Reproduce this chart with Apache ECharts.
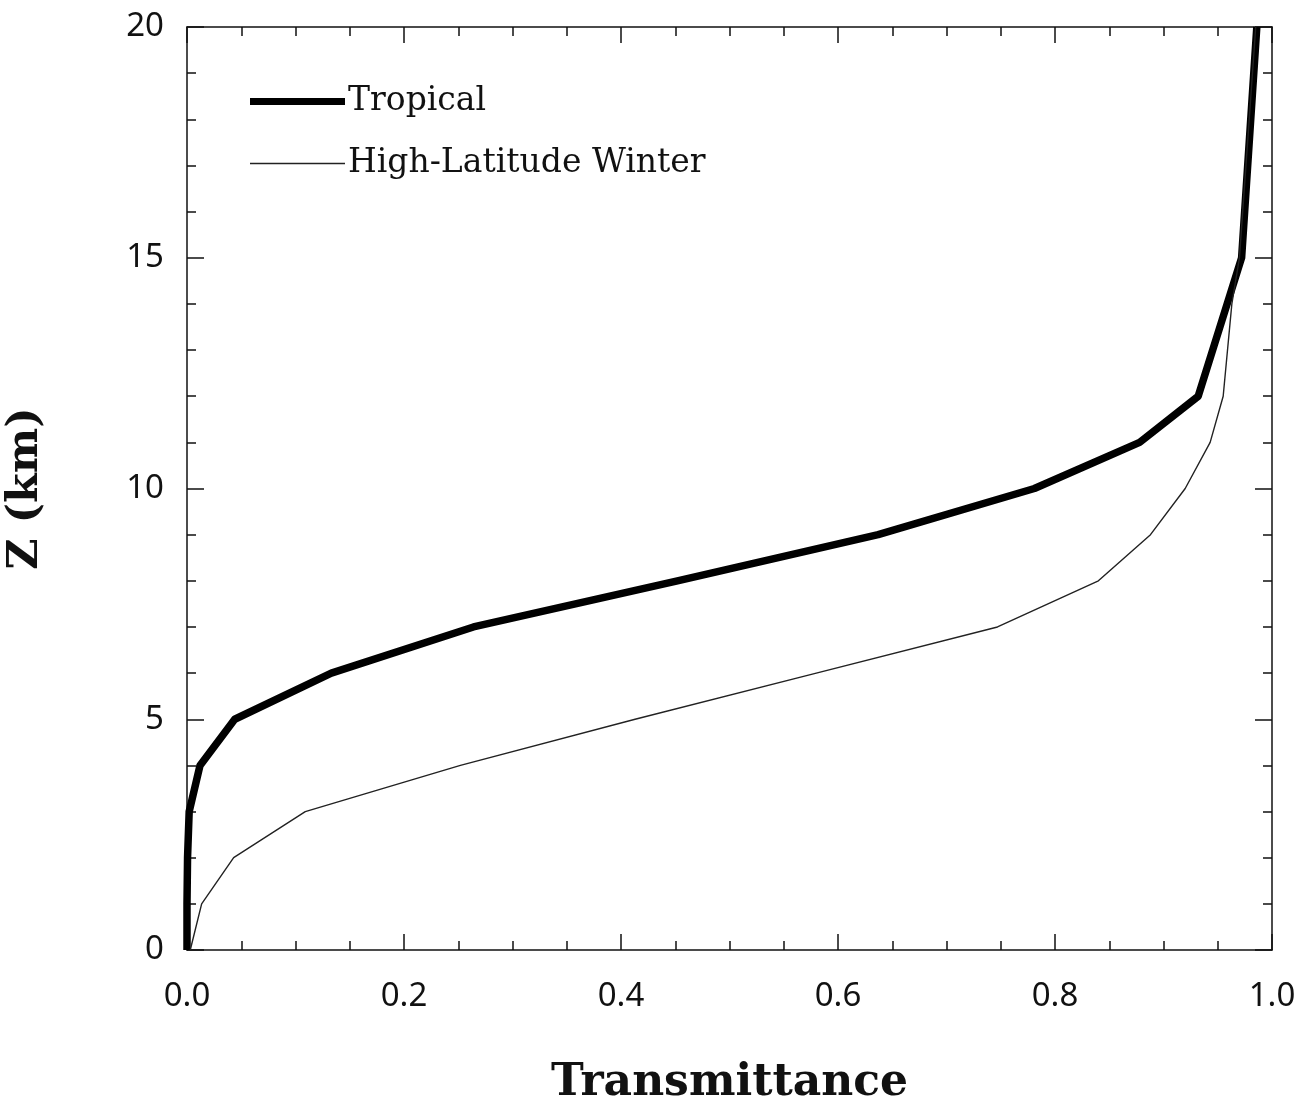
<!DOCTYPE html>
<html>
<head>
<meta charset="utf-8">
<script src="https://cdn.jsdelivr.net/npm/echarts@6/dist/echarts.min.js"></script>
<style>
  html, body { margin: 0; padding: 0; background: #fff; }
  #chart { width: 1302px; height: 1106px; }
</style>
</head>
<body>
<div id="chart"></div>
<script>
// Altitude levels (km) and transmittance values
const tropicalZ = [0, 1, 2, 3, 4, 5, 6, 7, 8, 9, 10, 11, 12, 15, 20];
const tropicalT = [0.0, 0.0, 0.0005, 0.002, 0.012, 0.044, 0.133, 0.264, 0.452, 0.637, 0.781, 0.878, 0.932, 0.972, 0.986];

const winterZ = [0, 1, 2, 3, 4, 5, 6, 7, 8, 9, 10, 11, 12, 13, 14, 15, 20];
const winterT = [0.003, 0.0135, 0.043, 0.109, 0.252, 0.413, 0.58, 0.747, 0.840, 0.888, 0.920, 0.943, 0.955, 0.959, 0.963, 0.970, 0.985];

const xTicks = [0.0, 0.2, 0.4, 0.6, 0.8, 1.0];
const yTicks = [0, 5, 10, 15, 20];

const seriesNames = ['Tropical', 'High-Latitude Winter'];

const pair = (xs, zs) => xs.map((v, i) => [v, zs[i]]);

const chart = echarts.init(document.getElementById('chart'));

const labelFont = { fontFamily: 'Noto Sans', fontSize: 33, color: '#111' };
const axisLine = { show: true, onZero: false, lineStyle: { color: '#111', width: 1.5 } };
const tickStyle = { color: '#111', width: 1.5 };

function xAxisDef(pos, withLabels) {
  const a = {
    type: 'value', min: 0, max: 1, interval: 0.2, position: pos,
    axisLine: axisLine,
    axisTick: { show: true, inside: true, length: 16, lineStyle: tickStyle },
    minorTick: { show: true, splitNumber: 4, length: 9, lineStyle: tickStyle },
    splitLine: { show: false }, minorSplitLine: { show: false },
    axisLabel: { show: false }
  };
  if (withLabels) {
    a.axisLabel = Object.assign({ show: true, margin: 30, formatter: v => v.toFixed(1) }, labelFont);
    a.name = 'Transmittance';
    a.nameLocation = 'middle';
    a.nameGap = 112;
    a.nameTextStyle = { fontFamily: 'DejaVu Serif', fontWeight: 'bold', fontSize: 44, color: '#111' };
  }
  return a;
}
function yAxisDef(pos, withLabels) {
  const a = {
    type: 'value', min: 0, max: 20, interval: 5, position: pos,
    axisLine: axisLine,
    axisTick: { show: true, inside: true, length: 17, lineStyle: tickStyle },
    minorTick: { show: true, splitNumber: 5, length: 9, lineStyle: tickStyle },
    splitLine: { show: false }, minorSplitLine: { show: false },
    axisLabel: { show: false }
  };
  if (withLabels) {
    a.axisLabel = Object.assign({ show: true, margin: 23, formatter: v => String(v) }, labelFont);
    a.name = 'Z (km)';
    a.nameLocation = 'middle';
    a.nameGap = 140;
    a.nameRotate = 90;
    a.nameTextStyle = { fontFamily: 'DejaVu Serif', fontWeight: 'bold', fontSize: 43, color: '#111' };
  }
  return a;
}

chart.setOption({
  backgroundColor: '#fff',
  animation: false,
  grid: { left: 187, right: 30, top: 27, bottom: 156, containLabel: false, outerBoundsMode: 'none' },
  legend: [
    {
      left: 245, top: 80, icon: 'rect', itemWidth: 95, itemHeight: 7, itemGap: 0,
      textStyle: { fontFamily: 'DejaVu Serif', fontSize: 33, color: '#111', padding: [0, 0, 0, -2] },
      data: [seriesNames[0]]
    },
    {
      left: 245, top: 142, icon: 'rect', itemWidth: 95, itemHeight: 1.4, itemGap: 0,
      textStyle: { fontFamily: 'DejaVu Serif', fontSize: 33, color: '#111', padding: [0, 0, 0, -2] },
      data: [seriesNames[1]]
    }
  ],
  xAxis: [xAxisDef('bottom', true), xAxisDef('top', false)],
  yAxis: [yAxisDef('left', true), yAxisDef('right', false)],
  series: [
    {
      name: seriesNames[0], type: 'line', xAxisIndex: 0, yAxisIndex: 0,
      data: pair(tropicalT, tropicalZ), showSymbol: false, symbol: 'none',
      lineStyle: { color: '#000', width: 7.5, join: 'round' }, itemStyle: { color: '#000' }, z: 3
    },
    {
      name: seriesNames[1], type: 'line', xAxisIndex: 0, yAxisIndex: 0,
      data: pair(winterT, winterZ), showSymbol: false, symbol: 'none',
      lineStyle: { color: '#222', width: 1.4 }, itemStyle: { color: '#222' }, z: 4
    }
  ]
});
</script>
</body>
</html>
